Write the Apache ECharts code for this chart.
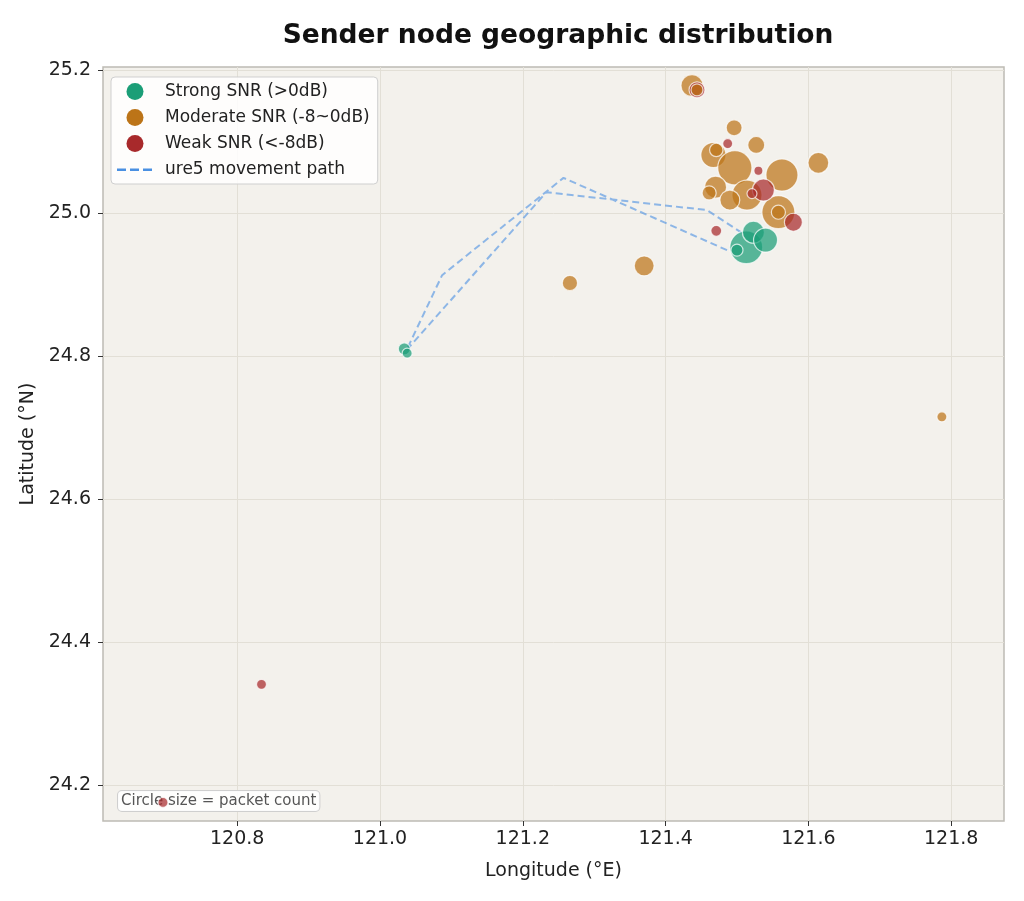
<!DOCTYPE html>
<html>
<head>
<meta charset="utf-8">
<script src="https://cdn.jsdelivr.net/npm/echarts@6/dist/echarts.min.js"></script>
<style>
html,body{margin:0;padding:0;background:#fff;}
#chart{width:1024px;height:901px;}
</style>
</head>
<body>
<div id="chart"></div>
<script>
// [longitude, latitude, packet count]
const strongNodes = [
  [121.034, 24.810, 16],
  [121.038, 24.804, 11],
  [121.513, 24.952, 120],
  [121.523, 24.973, 54],
  [121.540, 24.962, 64],
  [121.500, 24.948, 16]
];
const moderateNodes = [
  [121.266, 24.902, 26],
  [121.370, 24.926, 44],
  [121.787, 24.715, 11],
  [121.437, 25.178, 54],
  [121.496, 25.119, 28],
  [121.527, 25.095, 32],
  [121.614, 25.070, 48],
  [121.467, 25.081, 70],
  [121.471, 25.088, 20],
  [121.497, 25.063, 130],
  [121.563, 25.053, 114],
  [121.470, 25.036, 54],
  [121.461, 25.028, 22],
  [121.514, 25.025, 100],
  [121.490, 25.018, 44],
  [121.558, 25.001, 121],
  [121.558, 25.001, 22]
];
const weakNodes = [
  [120.834, 24.341, 11],
  [120.696, 24.176, 11],
  [121.471, 24.975, 13],
  [121.579, 24.987, 36],
  [121.487, 25.097, 11],
  [121.530, 25.059, 9],
  [121.537, 25.032, 54],
  [121.521, 25.027, 11],
  [121.444, 25.172, 28]
];
// moderate node drawn over the weak one at the top
const moderateTopNodes = [
  [121.444, 25.172, 16]
];
// ure5 movement path [longitude, latitude]
const ure5Path = [
  [121.486, 24.948],
  [121.257, 25.049],
  [121.087, 24.913],
  [121.037, 24.808],
  [121.233, 25.029],
  [121.458, 25.004],
  [121.507, 24.972]
];
const xTicks = [120.8, 121.0, 121.2, 121.4, 121.6, 121.8];
const yTicks = [24.2, 24.4, 24.6, 24.8, 25.0, 25.2];

const FONT = 'DejaVu Sans';
const sizeFn = v => Math.sqrt(v[2]) * 3;
const COLORS = { strong: '#1b9e77', moderate: '#bc7418', weak: '#a8292b', path: '#4a90e2' };

const chart = echarts.init(document.getElementById('chart'));
const scatterSeries = (name, data, color, z) => ({
  name, type: 'scatter', data,
  symbolSize: sizeFn,
  itemStyle: { color, opacity: 0.72, borderColor: '#ffffff', borderWidth: 1.2 },
  z: z,
  emphasis: { disabled: true }
});

chart.setOption({
  animation: false,
  backgroundColor: '#ffffff',
  title: {
    text: 'Sender node geographic distribution',
    left: 553, top: 18, textAlign: 'center',
    textStyle: { fontFamily: FONT, fontSize: 26.5, fontWeight: 'bold', color: '#111' }
  },
  grid: {
    left: 103, top: 67, width: 901, height: 754,
    show: true, backgroundColor: '#f3f1ec', borderColor: '#bdbbb4', borderWidth: 1.5
  },
  legend: {
    orient: 'vertical', left: 111, top: 77,
    padding: [6, 8, 6, 6],
    itemWidth: 36, itemHeight: 17, itemGap: 9,
    backgroundColor: 'rgba(255,255,255,0.85)', borderColor: '#cfcfcf', borderWidth: 1, borderRadius: 4,
    textStyle: { fontFamily: FONT, fontSize: 17, color: '#222', padding: [0, 0, 0, 7] },
    itemStyle: { opacity: 1, borderWidth: 0 },
    data: [
      { name: 'Strong SNR (>0dB)', icon: 'circle' },
      { name: 'Moderate SNR (-8~0dB)', icon: 'circle' },
      { name: 'Weak SNR (<-8dB)', icon: 'circle' },
      { name: 'ure5 movement path',
        icon: 'path://M0,0M36,17M0,7.5h9v2.5h-9zM13,7.5h9v2.5h-9zM26,7.5h9v2.5h-9z',
        itemStyle: { color: COLORS.path, opacity: 1 } }
    ]
  },
  xAxis: {
    type: 'value', min: 120.612, max: 121.874,
    name: 'Longitude (°E)', nameLocation: 'middle', nameGap: 41,
    nameTextStyle: { fontFamily: FONT, fontSize: 19, color: '#222' },
    axisLine: { show: false },
    axisTick: { show: true, length: 5, customValues: xTicks, lineStyle: { color: '#333' } },
    axisLabel: { customValues: xTicks, fontFamily: FONT, fontSize: 19, color: '#222', margin: 9,
      formatter: v => v.toFixed(1) },
    splitLine: { show: true, lineStyle: { color: '#e2dfd6', width: 1 } }
  },
  yAxis: {
    type: 'value', min: 24.15, max: 25.204,
    name: 'Latitude (°N)', nameLocation: 'middle', nameGap: 61,
    nameTextStyle: { fontFamily: FONT, fontSize: 19, color: '#222' },
    axisLine: { show: false },
    axisTick: { show: true, length: 5, customValues: yTicks, lineStyle: { color: '#333' } },
    axisLabel: { customValues: yTicks, fontFamily: FONT, fontSize: 19, color: '#222', margin: 12,
      formatter: v => v.toFixed(1) },
    splitLine: { show: true, lineStyle: { color: '#e2dfd6', width: 1 } }
  },
  graphic: [{
    type: 'text', left: 117, top: 790, z: 1,
    style: {
      text: 'Circle size = packet count',
      font: '15px "DejaVu Sans"', fill: '#555',
      backgroundColor: 'rgba(255,255,255,0.9)', borderColor: '#cfcfcf', borderWidth: 1,
      borderRadius: 4, padding: [3, 3, 2, 3]
    }
  }],
  series: [
    scatterSeries('Strong SNR (>0dB)', strongNodes, COLORS.strong, 3),
    scatterSeries('Moderate SNR (-8~0dB)', moderateNodes, COLORS.moderate, 3),
    scatterSeries('Weak SNR (<-8dB)', weakNodes, COLORS.weak, 3),
    scatterSeries('Moderate SNR (-8~0dB)', moderateTopNodes, COLORS.moderate, 4),
    {
      name: 'ure5 movement path', type: 'line', data: ure5Path,
      symbol: 'none', z: 2,
      color: COLORS.path,
      lineStyle: { color: COLORS.path, width: 2, type: [7, 4], opacity: 0.6 },
      emphasis: { disabled: true }
    }
  ]
});
</script>
</body>
</html>
